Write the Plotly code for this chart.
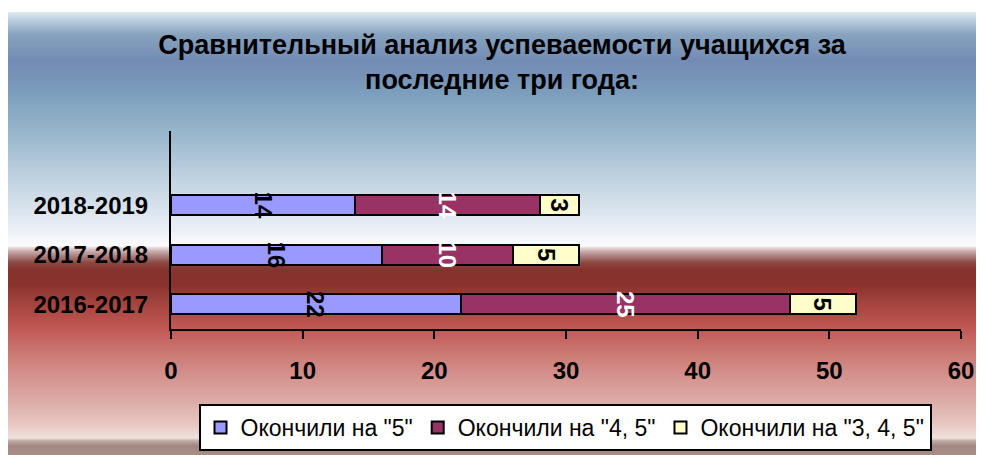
import plotly.graph_objects as go

# ---- data ----
years = ["2016-2017", "2017-2018", "2018-2019"]
grade_5 = [22, 16, 14]
grade_45 = [25, 10, 14]
grade_345 = [5, 5, 3]
series_names = ['Окончили на "5"', 'Окончили на "4, 5"', 'Окончили на "3, 4, 5"']
title_text = "Сравнительный анализ успеваемости учащихся за<br>последние три года:"
x_ticks = [0, 10, 20, 30, 40, 50, 60]

W, H = 1000, 475
OFF = 8  # page body margin
L = 171 - OFF
T = 131 - OFF
R = W - (961 - OFF)
B = H - (329 - OFF)
PW, PH = W - L - R, H - T - B

FONT = "Liberation Sans, Arial, sans-serif"

colors = ["#9999FF", "#993366", "#FFFFCC"]
text_colors = ["black", "white", "black"]

fig = go.Figure()
for vals, name, c, tc in zip([grade_5, grade_45, grade_345], series_names, colors, text_colors):
    fig.add_trace(go.Bar(
        y=years, x=vals, name=name, orientation="h",
        marker=dict(color=c, line=dict(color="black", width=2)),
        text=[str(v) for v in vals], textposition="inside",
        insidetextanchor="middle", textangle=90, constraintext="none",
        textfont=dict(family=FONT, size=24, color=tc, weight="bold"),
        hoverinfo="skip",
    ))

# ---- background gradient (styling), given in screen pixel rows ----
stops = [
    (12, (222, 234, 242)), (22, (180, 200, 218)), (35, (135, 162, 190)),
    (60, (116, 140, 180)), (75, (118, 145, 182)), (95, (125, 160, 190)),
    (130, (150, 180, 202)), (170, (185, 205, 222)), (200, (210, 222, 233)),
    (230, (235, 240, 246)), (246, (250, 251, 253)), (248, (230, 212, 212)),
    (252, (195, 165, 165)), (257, (165, 120, 118)), (263, (142, 70, 65)),
    (270, (135, 50, 46)), (285, (138, 50, 46)), (300, (160, 65, 60)),
    (325, (190, 85, 80)), (345, (200, 110, 105)), (370, (210, 140, 135)),
    (400, (220, 170, 165)), (425, (232, 200, 195)), (438, (240, 225, 220)),
    (441, (190, 170, 165)), (446, (160, 135, 130)), (485, (190, 165, 160)),
]

def col_at(py):
    for (y0, c0), (y1, c1) in zip(stops[:-1], stops[1:]):
        if y0 <= py <= y1:
            t = (py - y0) / (y1 - y0) if y1 > y0 else 0
            return tuple(int(round(a + (b - a) * t)) for a, b in zip(c0, c1))
    return stops[-1][1]

def px_x(sx):
    return (sx - OFF - L) / PW

def px_y(sy):
    return (H - B - (sy - OFF)) / PH

shapes = []
for py in range(12, 485):
    r, g, b = col_at(py + 0.5)
    shapes.append(dict(
        type="rect", xref="paper", yref="paper", layer="below",
        x0=px_x(8), x1=px_x(1010), y0=px_y(py + 2), y1=px_y(py),
        fillcolor=f"rgb({r},{g},{b})", line=dict(width=0),
    ))

fig.update_layout(
    width=W, height=H,
    margin=dict(l=L, r=R, t=T, b=B),
    paper_bgcolor="white",
    plot_bgcolor="rgba(0,0,0,0)",
    barmode="stack",
    bargap=0.6,
    shapes=shapes,
    uniformtext=dict(minsize=24, mode="show"),
    title=dict(
        text=title_text, x=(502 - OFF) / W, xanchor="center",
        y=1 - (54 - OFF) / H, yanchor="middle", yref="container",
        font=dict(family=FONT, size=27, color="black", weight="bold"),
    ),
    xaxis=dict(
        range=[0, 60], tickvals=x_ticks, showgrid=False, zeroline=False,
        showline=True, linecolor="black", linewidth=2,
        ticks="outside", ticklen=8, tickwidth=2, tickcolor="black",
        ticklabelstandoff=11,
        tickfont=dict(family=FONT, size=24, color="black", weight="bold"),
        fixedrange=True,
    ),
    yaxis=dict(
        type="category", categoryorder="array", categoryarray=years,
        range=[-0.5, 3.5], showgrid=False, zeroline=False,
        showline=True, linecolor="black", linewidth=2, ticks="",
        ticklabelstandoff=16,
        tickfont=dict(family=FONT, size=24, color="black", weight="bold"),
        fixedrange=True,
    ),
    legend=dict(
        orientation="h", x=px_x(565), xanchor="center",
        y=px_y(404), yanchor="top",
        bgcolor="white", bordercolor="black", borderwidth=2,
        font=dict(family=FONT, size=23, color="black"),
        traceorder="normal",
    ),
    showlegend=True,
)

fig.write_html(
    "out.html",
    post_script="document.documentElement.style.overflow='hidden';"
                "document.body.style.overflow='hidden';",
)
